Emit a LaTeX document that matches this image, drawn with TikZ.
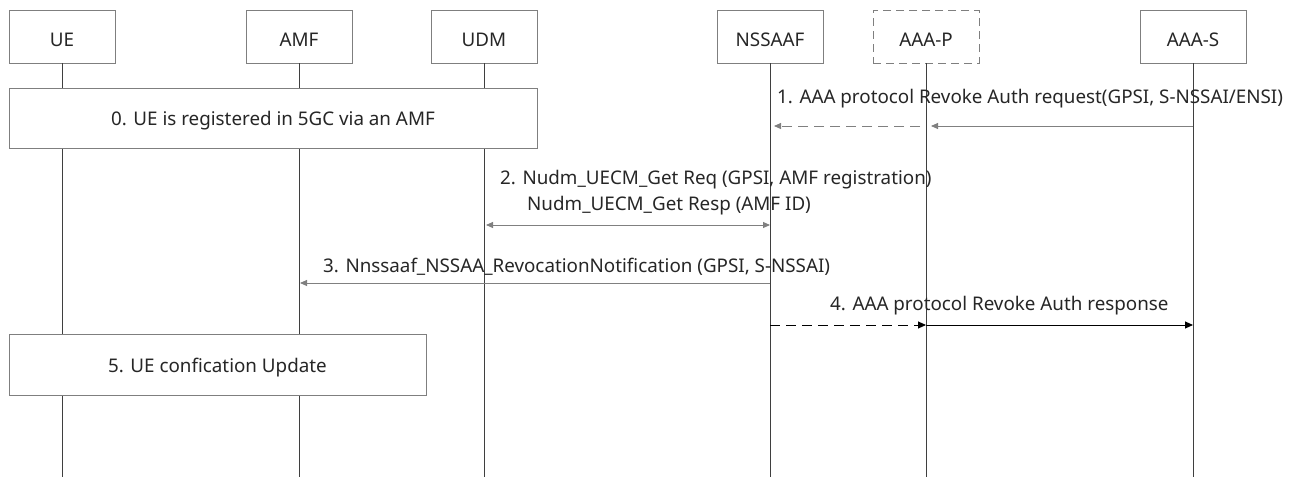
\documentclass[tikz,border=0pt]{standalone}
\usepackage{fontspec}
\setmainfont{Noto Sans}
\usetikzlibrary{arrows.meta}
\definecolor{boxline}{HTML}{7F7F7F}
\definecolor{lifeline}{HTML}{3F3F3F}
\definecolor{msggray}{HTML}{808080}
\definecolor{txt}{HTML}{262626}
\begin{document}
\begin{tikzpicture}[x=1pt,y=-1pt,
  font=\fontsize{18.8}{22}\selectfont, text=txt,
  part/.style={draw=boxline, line width=0.9pt, fill=white, minimum width=106pt, minimum height=53pt, inner sep=0pt, text height=19.4pt, text depth=0pt},
  partdash/.style={part, dash pattern=on 8pt off 5pt},
  life/.style={draw=lifeline, line width=1pt},
  event/.style={draw=boxline, line width=0.9pt, fill=white, inner sep=0pt, text height=15pt, text depth=0pt},
  lbl/.style={anchor=base west, inner sep=0pt},
  gmsg/.style={draw=msggray, line width=0.9pt, -{Triangle[length=7pt,width=6pt]}},
  bmsg/.style={draw=black, line width=0.9pt, -{Triangle[length=8pt,width=7pt]}},
  dsh/.style={dash pattern=on 10pt off 6pt}
]
\useasboundingbox (0,0) rectangle (1293,477);

% participants
\node[part] (ue) at (62,36.5) {UE};
\node[part] (amf) at (299,36.5) {AMF};
\node[part] (udm) at (484,36.5) {UDM};
\node[part] (nssaaf) at (770,36.5) {NSSAAF};
\node[partdash] (aaap) at (926,36.5) {AAA-P};
\node[part] (aaas) at (1193,36.5) {AAA-S};

% lifeline ends
\coordinate (ueE) at (62,477);
\coordinate (amfE) at (299,477);
\coordinate (udmE) at (484,477);
\coordinate (nssaafE) at (770,477);
\coordinate (aaapE) at (926,477);
\coordinate (aaasE) at (1193,477);

\draw[life] (ue.south) -- (ueE);
\draw[life] (amf.south) -- (amfE);
\draw[life] (udm.south) -- (udmE);
\draw[life] (nssaaf.south) -- (nssaafE);
\draw[life] (aaap.south) -- (aaapE);
\draw[life] (aaas.south) -- (aaasE);

% event boxes
\node[event, minimum width=528pt, minimum height=60pt] (ev0) at (273,118) {0. UE is registered in 5GC via an AMF};
\node[event, minimum width=417pt, minimum height=61pt] (ev5) at (217.5,364.5) {5. UE confication Update};

% message 1
\coordinate (m1a) at (1193,126);
\coordinate (m1b) at (931,126);
\coordinate (m1c) at (920,126);
\coordinate (m1d) at (774,126);
\node[lbl] (l1) at (777,103) {1. AAA protocol Revoke Auth request(GPSI, S-NSSAI/ENSI)};
\draw[gmsg] (m1a) -- (m1b);
\draw[gmsg, dsh] (m1c) -- (m1d);

% message 2
\coordinate (m2a) at (486,225);
\coordinate (m2b) at (770,225);
\node[lbl] (l2a) at (500,184) {2. Nudm\_UECM\_Get Req (GPSI, AMF registration)};
\node[lbl] (l2b) at (527,210) {Nudm\_UECM\_Get Resp (AMF ID)};
\draw[gmsg, {Triangle[length=7pt,width=6pt]}-{Triangle[length=7pt,width=6pt]}] (m2a) -- (m2b);

% message 3
\coordinate (m3a) at (770,283);
\coordinate (m3b) at (300,283);
\node[lbl] (l3) at (323,272) {3. Nnssaaf\_NSSAA\_RevocationNotification (GPSI, S-NSSAI)};
\draw[gmsg] (m3a) -- (m3b);

% message 4
\coordinate (m4a) at (770,325);
\coordinate (m4b) at (926,325);
\coordinate (m4c) at (1193,325);
\node[lbl] (l4) at (830,310) {4. AAA protocol Revoke Auth response};
\draw[bmsg, dsh] (m4a) -- (m4b);
\draw[bmsg] (m4b) -- (m4c);
\end{tikzpicture}
\end{document}
